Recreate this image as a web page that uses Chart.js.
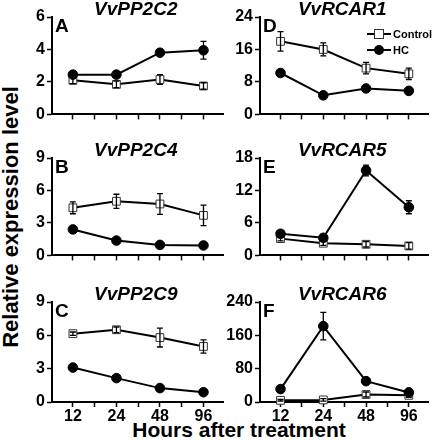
<!DOCTYPE html>
<html>
<head>
<meta charset="utf-8">
<script src="https://cdn.jsdelivr.net/npm/chart.js@4.4.1/dist/chart.umd.min.js"></script>
<style>
    body { margin: 0; background: #fff; }
    #wrap { position: relative; width: 435px; height: 440px; overflow: hidden; font-family: "Liberation Sans", Arial, sans-serif; }
    #wrap canvas { position: absolute; }
    .ylab { position: absolute; left: -139px; top: 205px; width: 300px; height: 24px; line-height: 24px;
            text-align: center; font-size: 22px; font-weight: bold; transform: rotate(-90deg); }
    .xlab { position: absolute; left: 0; top: 419px; width: 478px; text-align: center; font-size: 21px; font-weight: bold; line-height: 21px; }
</style>
</head>
<body>
<div id="wrap">
    <div class="ylab">Relative expression level</div>
    <div class="xlab">Hours after treatment</div>
</div>
<script>
const hours = ["12", "24", "48", "96"];

// A - VvPP2C2
const pp2c2Control = [2.1, 1.85, 2.15, 1.75];
const pp2c2ControlErr = [0.2, 0.2, 0.3, 0.2];
const pp2c2HC = [2.45, 2.45, 3.8, 3.95];
const pp2c2HCErr = [0.15, 0.15, 0.2, 0.55];

// B - VvPP2C4
const pp2c4Control = [4.4, 5.0, 4.75, 3.7];
const pp2c4ControlErr = [0.55, 0.65, 0.95, 0.95];
const pp2c4HC = [2.4, 1.37, 0.97, 0.92];
const pp2c4HCErr = [0.3, 0.1, 0.1, 0.1];

// C - VvPP2C9
const pp2c9Control = [6.15, 6.5, 5.8, 5.0];
const pp2c9ControlErr = [0.15, 0.25, 0.85, 0.6];
const pp2c9HC = [3.1, 2.15, 1.25, 0.88];
const pp2c9HCErr = [0.1, 0.1, 0.1, 0.1];

// D - VvRCAR1
const rcar1Control = [18, 16, 11.4, 10];
const rcar1ControlErr = [2.4, 1.6, 1.4, 1.4];
const rcar1HC = [10.2, 4.7, 6.4, 5.8];
const rcar1HCErr = [0.4, 0.3, 0.3, 0.3];

// E - VvRCAR5
const rcar5Control = [3.1, 2.25, 2.05, 1.75];
const rcar5ControlErr = [0.4, 0.4, 0.5, 0.6];
const rcar5HC = [4.0, 3.25, 15.7, 8.9];
const rcar5HCErr = [0.3, 0.3, 1.0, 1.2];

// F - VvRCAR6
const rcar6Control = [4, 5, 18, 16];
const rcar6ControlErr = [2, 3, 6, 5];
const rcar6HC = [31, 182, 50, 23];
const rcar6HCErr = [3, 33, 5, 3];

const FONT = '"Liberation Sans", Arial, sans-serif';

// draws error bars over the markers (caps show inside the open squares)
const errorBars = {
    id: "errorBars",
    afterDatasetsDraw(chart) {
        const { ctx, scales: { x, y } } = chart;
        ctx.save();
        ctx.strokeStyle = "#000";
        ctx.lineWidth = 1.3;
        chart.data.datasets.forEach(ds => {
            ds.data.forEach((pt, i) => {
                const e = ds.err[i];
                const px = x.getPixelForValue(pt.x);
                const top = y.getPixelForValue(pt.y + e);
                const bot = y.getPixelForValue(pt.y - e);
                ctx.beginPath();
                ctx.moveTo(px, top); ctx.lineTo(px, bot);
                ctx.moveTo(px - 3, top); ctx.lineTo(px + 3, top);
                ctx.moveTo(px - 3, bot); ctx.lineTo(px + 3, bot);
                ctx.stroke();
            });
        });
        ctx.restore();
    }
};

// panel title, letter and (panel D) legend
const panelText = {
    id: "panelText",
    afterDraw(chart, args, opts) {
        const { ctx, chartArea: a } = chart;
        ctx.save();
        ctx.fillStyle = "#000";
        ctx.textBaseline = "alphabetic";
        ctx.font = "italic bold 19px " + FONT;
        ctx.textAlign = "center";
        ctx.fillText(opts.title, (a.left + a.right) / 2 - 2, a.top - 2);
        ctx.font = "bold 19px " + FONT;
        ctx.textAlign = "left";
        ctx.fillText(opts.letter, a.left + 3, a.top + 15);

        if (opts.legend) {
            const items = [chart.data.datasets[1], chart.data.datasets[0]];
            items.forEach((ds, k) => {
                const yy = a.top + 17 + k * 16;
                const mx = a.left + 119;
                ctx.strokeStyle = "#000";
                ctx.lineWidth = 2;
                ctx.beginPath();
                ctx.moveTo(a.left + 107, yy); ctx.lineTo(a.left + 131, yy);
                ctx.stroke();
                ctx.lineWidth = 1;
                if (ds.pointStyle === "rect") {
                    ctx.fillStyle = "#fff";
                    ctx.fillRect(mx - 4.5, yy - 4.5, 9, 9);
                    ctx.strokeStyle = "#333";
                    ctx.strokeRect(mx - 4.5, yy - 4.5, 9, 9);
                } else {
                    ctx.fillStyle = "#000";
                    ctx.beginPath();
                    ctx.arc(mx, yy, 5, 0, Math.PI * 2);
                    ctx.fill();
                }
                ctx.fillStyle = "#000";
                ctx.font = "bold 11px " + FONT;
                ctx.textBaseline = "middle";
                ctx.fillText(ds.label, a.left + 133, yy + 0.5);
            });
        }
        ctx.restore();
    }
};

const panels = [
    { letter: "A", title: "VvPP2C2", x: 0, y: 0, w: 230, h: 126, padR: 6, yMax: 6, yStep: 2, bottom: false,
      ctrl: pp2c2Control, ctrlErr: pp2c2ControlErr, hc: pp2c2HC, hcErr: pp2c2HCErr },
    { letter: "B", title: "VvPP2C4", x: 0, y: 141, w: 230, h: 126, padR: 6, yMax: 9, yStep: 3, bottom: false,
      ctrl: pp2c4Control, ctrlErr: pp2c4ControlErr, hc: pp2c4HC, hcErr: pp2c4HCErr },
    { letter: "C", title: "VvPP2C9", x: 0, y: 285, w: 230, h: 143, padR: 6, yMax: 9, yStep: 3, bottom: true,
      ctrl: pp2c9Control, ctrlErr: pp2c9ControlErr, hc: pp2c9HC, hcErr: pp2c9HCErr },
    { letter: "D", title: "VvRCAR1", x: 208, y: 0, w: 227, h: 126, padR: 3, yMax: 24, yStep: 8, bottom: false, legend: true,
      ctrl: rcar1Control, ctrlErr: rcar1ControlErr, hc: rcar1HC, hcErr: rcar1HCErr },
    { letter: "E", title: "VvRCAR5", x: 208, y: 141, w: 227, h: 126, padR: 3, yMax: 18, yStep: 6, bottom: false,
      ctrl: rcar5Control, ctrlErr: rcar5ControlErr, hc: rcar5HC, hcErr: rcar5HCErr },
    { letter: "F", title: "VvRCAR6", x: 208, y: 285, w: 227, h: 143, padR: 3, yMax: 240, yStep: 80, bottom: true,
      ctrl: rcar6Control, ctrlErr: rcar6ControlErr, hc: rcar6HC, hcErr: rcar6HCErr }
];

function makePanel(p) {
    const canvas = document.createElement("canvas");
    canvas.width = p.w;
    canvas.height = p.h;
    canvas.style.left = p.x + "px";
    canvas.style.top = p.y + "px";
    document.getElementById("wrap").appendChild(canvas);

    const tickFont = { family: FONT, size: 16, weight: "bold" };

    new Chart(canvas, {
        type: "line",
        data: {
            datasets: [
                {
                    label: "HC",
                    data: p.hc.map((v, i) => ({ x: i, y: v })),
                    err: p.hcErr,
                    borderColor: "#000",
                    borderWidth: 2,
                    pointStyle: "circle",
                    pointRadius: 4.8,
                    pointBackgroundColor: "#000",
                    pointBorderColor: "#000",
                    pointBorderWidth: 1,
                    clip: false
                },
                {
                    label: "Control",
                    data: p.ctrl.map((v, i) => ({ x: i, y: v })),
                    err: p.ctrlErr,
                    borderColor: "#000",
                    borderWidth: 2,
                    pointStyle: "rect",
                    pointRadius: 5.5,
                    pointBackgroundColor: "#fff",
                    pointBorderColor: "#333",
                    pointBorderWidth: 1,
                    clip: false
                }
            ]
        },
        options: {
            responsive: false,
            animation: false,
            devicePixelRatio: 1,
            layout: { padding: { top: 17, right: p.padR, left: 0, bottom: 0 } },
            plugins: {
                legend: { display: false },
                tooltip: { enabled: false },
                panelText: { title: p.title, letter: p.letter, legend: !!p.legend }
            },
            scales: {
                x: {
                    type: "linear",
                    min: -0.48,
                    max: 3.46,
                    afterBuildTicks: s => { s.ticks = [0, 0.5, 1, 1.5, 2, 2.5, 3].map(v => ({ value: v })); },
                    afterFit: s => { s.height = p.bottom ? 26 : 8; },
                    ticks: {
                        display: p.bottom,
                        autoSkip: false,
                        maxRotation: 0,
                        padding: 0,
                        color: "#000",
                        font: tickFont,
                        callback: v => Number.isInteger(v) ? hours[v] : ""
                    },
                    grid: { drawOnChartArea: false, tickLength: 5, tickColor: "#000", tickWidth: 1.5 },
                    border: { color: "#000", width: 2 }
                },
                y: {
                    type: "linear",
                    min: 0,
                    max: p.yMax,
                    afterBuildTicks: s => {
                        const t = [];
                        for (let k = 0; k <= 2 * p.yMax / p.yStep; k++) t.push({ value: k * p.yStep / 2 });
                        s.ticks = t;
                    },
                    afterFit: s => { s.width = 52; },
                    ticks: {
                        padding: 2,
                        color: "#000",
                        font: tickFont,
                        callback: v => Math.abs(v / p.yStep - Math.round(v / p.yStep)) < 1e-6 ? v : ""
                    },
                    grid: { drawOnChartArea: false, tickLength: 5, tickColor: "#000", tickWidth: 1.5 },
                    border: { color: "#000", width: 2 }
                }
            }
        },
        plugins: [errorBars, panelText]
    });
}

panels.forEach(makePanel);
</script>
</body>
</html>
